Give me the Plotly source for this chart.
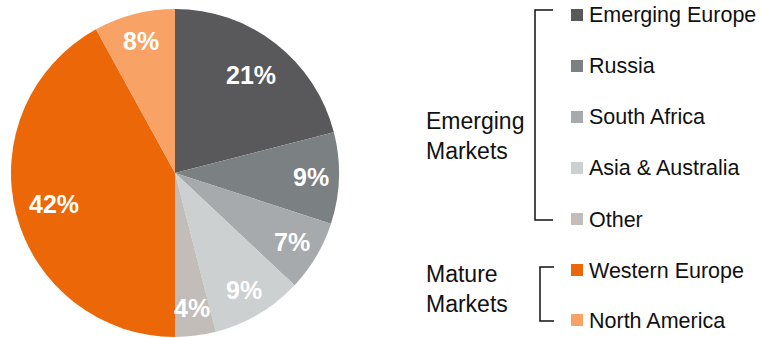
import math
import plotly.graph_objects as go

W, H = 761, 338

regions = ["Emerging Europe", "Russia", "South Africa", "Asia & Australia",
           "Other", "Western Europe", "North America"]
shares = [21, 9, 7, 9, 4, 42, 8]
colors = ["#59595b", "#7b8183", "#a6aaac", "#ccd0d1", "#c2bdb9", "#ec6708", "#f9a266"]
group_titles = ["Emerging<br>Markets", "Mature<br>Markets"]
group_sizes = [5, 2]

FONT = "Arial, Liberation Sans, sans-serif"

# pie geometry in pixels
CX, CY, R = 175, 173, 164

fig = go.Figure()
fig.add_trace(go.Pie(
    labels=regions,
    values=shares,
    sort=False,
    direction="clockwise",
    rotation=0,
    marker=dict(colors=colors, line=dict(width=0)),
    textinfo="none",
    domain=dict(x=[(CX - R) / W, (CX + R) / W], y=[1 - (CY + R) / H, 1 - (CY - R) / H]),
    showlegend=False,
    hoverinfo="label+percent",
))


def px(x):
    return x / W


def py(y):
    return 1 - y / H


shapes = []
annotations = []

# percentage labels placed along each slice's bisector
total = sum(shares)
cum = 0
for v in shares:
    mid = (cum + v / 2) / total * 2 * math.pi
    cum += v
    rf = 0.76 if v >= 15 else 0.83
    lx = CX + rf * R * math.sin(mid)
    ly = CY - rf * R * math.cos(mid)
    annotations.append(dict(text=f"{v}%", xref="paper", yref="paper",
                            x=px(lx), y=py(ly), xanchor="center", yanchor="middle",
                            showarrow=False,
                            font=dict(family=FONT, size=25, color="white", weight="bold")))

# legend rows: square swatch + label
row_y = [15, 66, 117, 168, 219, 270, 320]
for name, col, y in zip(regions, colors, row_y):
    shapes.append(dict(type="rect", xref="paper", yref="paper",
                       x0=px(571), x1=px(583), y0=py(y - 6), y1=py(y + 6),
                       fillcolor=col, line=dict(width=0)))
    annotations.append(dict(text=name, xref="paper", yref="paper",
                            x=px(587), y=py(y + 0.5), xanchor="left", yanchor="middle",
                            showarrow=False,
                            font=dict(family=FONT, size=21.5, color="#111111")))

# group brackets
brackets = [(535, 10, 220, 553), (540, 267, 321, 554)]
for xv, y0, y1, xe in brackets:
    path = (f"M {px(xe)},{py(y0)} L {px(xv)},{py(y0)} "
            f"L {px(xv)},{py(y1)} L {px(xe)},{py(y1)}")
    shapes.append(dict(type="path", xref="paper", yref="paper", path=path,
                       line=dict(color="#111111", width=1.5)))

# group titles
group_y = [136, 289]
for title, y in zip(group_titles, group_y):
    annotations.append(dict(text=title, xref="paper", yref="paper",
                            x=px(424), y=py(y), xanchor="left", yanchor="middle",
                            align="left", showarrow=False,
                            font=dict(family=FONT, size=23, color="#111111")))

fig.update_layout(
    width=W, height=H,
    margin=dict(l=0, r=0, t=0, b=0),
    paper_bgcolor="white",
    plot_bgcolor="white",
    shapes=shapes,
    annotations=annotations,
)

fig.write_html("out.html")
